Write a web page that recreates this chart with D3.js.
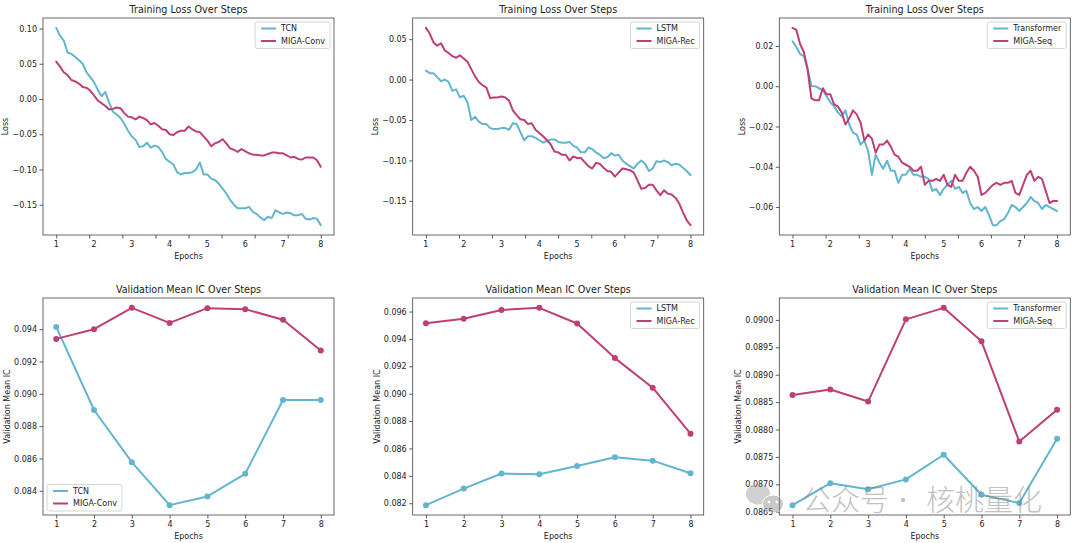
<!DOCTYPE html>
<html>
<head>
<meta charset="utf-8">
<script src="https://cdn.jsdelivr.net/npm/d3@7"></script>
<style>
  body { margin: 0; background: #fff; }
  svg { display: block; font-family: "DejaVu Sans", sans-serif; }
</style>
</head>
<body>
<svg id="chart" width="1080" height="543"></svg>
<script>
// epochs shown on the validation plots and as labels on the loss plots
const epochs = [1, 2, 3, 4, 5, 6, 7, 8]
const epochLabels = ["1", "2", "3", "4", "5", "6", "7", "8"]

// training loss, one value per tenth of an epoch (1.0 ... 8.0)
const tcnLoss = [
  0.101, 0.090, 0.083, 0.066, 0.064, 0.060, 0.055, 0.050, 0.038, 0.031,
  0.024, 0.013, 0.004, 0.010, -0.005, -0.018, -0.022, -0.027, -0.035, -0.045,
  -0.053, -0.058, -0.068, -0.067, -0.062, -0.069, -0.066, -0.068, -0.075, -0.085,
  -0.089, -0.093, -0.104, -0.107, -0.105, -0.105, -0.104, -0.100, -0.090, -0.107,
  -0.107, -0.113, -0.115, -0.120, -0.127, -0.134, -0.143, -0.150, -0.155, -0.155,
  -0.155, -0.153, -0.160, -0.163, -0.168, -0.172, -0.167, -0.169, -0.158, -0.161,
  -0.163, -0.161, -0.162, -0.165, -0.165, -0.163, -0.170, -0.171, -0.169, -0.170,
  -0.179
]
const migaConvLoss = [
  0.053, 0.046, 0.038, 0.034, 0.027, 0.025, 0.022, 0.017, 0.016, 0.012,
  0.005, -0.002, -0.006, -0.010, -0.015, -0.014, -0.012, -0.013, -0.020, -0.025,
  -0.026, -0.029, -0.025, -0.027, -0.030, -0.036, -0.034, -0.038, -0.043, -0.044,
  -0.050, -0.051, -0.047, -0.045, -0.045, -0.039, -0.043, -0.046, -0.047, -0.053,
  -0.059, -0.067, -0.063, -0.061, -0.057, -0.063, -0.070, -0.072, -0.075, -0.071,
  -0.074, -0.077, -0.079, -0.079, -0.080, -0.080, -0.078, -0.076, -0.076, -0.077,
  -0.077, -0.080, -0.083, -0.082, -0.085, -0.086, -0.083, -0.083, -0.083, -0.087,
  -0.096
]
const lstmLoss = [
  0.011, 0.008, 0.008, 0.003, -0.002, 0.000, -0.003, -0.014, -0.012, -0.022,
  -0.020, -0.028, -0.050, -0.046, -0.052, -0.055, -0.055, -0.060, -0.061, -0.061,
  -0.060, -0.060, -0.062, -0.054, -0.055, -0.065, -0.075, -0.070, -0.070, -0.072,
  -0.075, -0.078, -0.076, -0.074, -0.074, -0.077, -0.078, -0.078, -0.077, -0.082,
  -0.084, -0.090, -0.090, -0.084, -0.086, -0.090, -0.093, -0.097, -0.096, -0.091,
  -0.094, -0.093, -0.100, -0.104, -0.107, -0.110, -0.104, -0.100, -0.104, -0.113,
  -0.110, -0.101, -0.102, -0.100, -0.102, -0.106, -0.104, -0.105, -0.109, -0.113,
  -0.118
]
const migaRecLoss = [
  0.064, 0.057, 0.046, 0.042, 0.045, 0.036, 0.033, 0.029, 0.027, 0.030,
  0.026, 0.022, 0.013, 0.004, -0.003, -0.007, -0.010, -0.023, -0.022, -0.022,
  -0.021, -0.022, -0.026, -0.038, -0.044, -0.049, -0.050, -0.055, -0.054, -0.062,
  -0.066, -0.070, -0.075, -0.080, -0.089, -0.090, -0.093, -0.093, -0.100, -0.095,
  -0.097, -0.097, -0.102, -0.107, -0.110, -0.103, -0.104, -0.109, -0.113, -0.114,
  -0.120, -0.115, -0.110, -0.111, -0.112, -0.115, -0.125, -0.135, -0.134, -0.130,
  -0.130, -0.137, -0.143, -0.137, -0.141, -0.142, -0.146, -0.153, -0.164, -0.174,
  -0.180
]
const transformerLoss = [
  0.0223, 0.0195, 0.016, 0.015, 0.009, 0.000, 0.000, -0.001, -0.002, -0.005,
  -0.008, -0.010, -0.013, -0.015, -0.012, -0.019, -0.023, -0.024, -0.029, -0.027,
  -0.032, -0.044, -0.034, -0.038, -0.041, -0.037, -0.042, -0.042, -0.048, -0.044,
  -0.044, -0.041, -0.044, -0.044, -0.045, -0.045, -0.046, -0.052, -0.051, -0.054,
  -0.051, -0.049, -0.047, -0.051, -0.050, -0.053, -0.052, -0.058, -0.061, -0.060,
  -0.062, -0.060, -0.064, -0.069, -0.069, -0.067, -0.066, -0.063, -0.059, -0.060,
  -0.062, -0.060, -0.058, -0.055, -0.057, -0.058, -0.061, -0.059, -0.060, -0.061,
  -0.062
]
const migaSeqLoss = [
  0.029, 0.028, 0.021, 0.017, 0.008, -0.006, -0.007, -0.007, -0.001, -0.004,
  -0.004, -0.009, -0.010, -0.013, -0.019, -0.016, -0.012, -0.014, -0.018, -0.027,
  -0.024, -0.026, -0.033, -0.029, -0.029, -0.027, -0.030, -0.034, -0.035, -0.038,
  -0.039, -0.040, -0.042, -0.042, -0.040, -0.049, -0.047, -0.047, -0.046, -0.047,
  -0.044, -0.049, -0.050, -0.044, -0.047, -0.047, -0.043, -0.040, -0.042, -0.045,
  -0.054, -0.053, -0.051, -0.049, -0.048, -0.049, -0.048, -0.048, -0.047, -0.053,
  -0.054, -0.049, -0.044, -0.042, -0.047, -0.045, -0.046, -0.052, -0.058, -0.057,
  -0.057
]

// validation mean IC per epoch
const tcnIC = [0.09414, 0.08900, 0.08577, 0.08311, 0.08365, 0.08505, 0.08962, 0.08962]
const migaConvIC = [0.09340, 0.09400, 0.09532, 0.09439, 0.09530, 0.09524, 0.09458, 0.09268]
const lstmIC = [0.08186, 0.08307, 0.08417, 0.08412, 0.08472, 0.08536, 0.08511, 0.08419]
const migaRecIC = [0.09515, 0.09547, 0.09612, 0.09627, 0.09513, 0.09260, 0.09044, 0.08708]
const transformerIC = [0.08662, 0.08702, 0.08691, 0.08709, 0.08754, 0.08681, 0.08666, 0.08783]
const migaSeqIC = [0.08863, 0.08873, 0.08851, 0.09001, 0.09022, 0.08961, 0.08778, 0.08836]

// y tick values
const lossTicksConv = [-0.15, -0.10, -0.05, 0.00, 0.05, 0.10]
const lossTicksRec = [-0.15, -0.10, -0.05, 0.00, 0.05]
const lossTicksSeq = [-0.06, -0.04, -0.02, 0.00, 0.02]
const icTicksConv = [0.084, 0.086, 0.088, 0.090, 0.092, 0.094]
const icTicksRec = [0.082, 0.084, 0.086, 0.088, 0.090, 0.092, 0.094, 0.096]
const icTicksSeq = [0.0865, 0.0870, 0.0875, 0.0880, 0.0885, 0.0890, 0.0895, 0.0900]

const BLUE = "#63b5cf"
const PINK = "#bd3f75"

const stepX = tcnLoss.map((_, i) => 1 + i / 10)
const stepTickMarks = d3.range(9).map(i => 1 + i * 7 / 8)

const W = 291, H = 217
const svg = d3.select("#chart")
svg.append("rect").attr("width", 1080).attr("height", 543).attr("fill", "#fff")

const panels = [
  { left: 43, top: 18, title: "Training Loss Over Steps", ylabel: "Loss", xs: stepX, steps: true,
    series: [["TCN", tcnLoss, BLUE], ["MIGA-Conv", migaConvLoss, PINK]], ticks: lossTicksConv, fmt: ".2f", legend: "ur" },
  { left: 412.7, top: 18, title: "Training Loss Over Steps", ylabel: "Loss", xs: stepX, steps: true,
    series: [["LSTM", lstmLoss, BLUE], ["MIGA-Rec", migaRecLoss, PINK]], ticks: lossTicksRec, fmt: ".2f", legend: "ur" },
  { left: 779.3, top: 18, title: "Training Loss Over Steps", ylabel: "Loss", xs: stepX, steps: true,
    series: [["Transformer", transformerLoss, BLUE], ["MIGA-Seq", migaSeqLoss, PINK]], ticks: lossTicksSeq, fmt: ".2f", legend: "ur" },
  { left: 43, top: 298, title: "Validation Mean IC Over Steps", ylabel: "Validation Mean IC", xs: epochs, steps: false,
    series: [["TCN", tcnIC, BLUE], ["MIGA-Conv", migaConvIC, PINK]], ticks: icTicksConv, fmt: ".3f", legend: "ll" },
  { left: 412.7, top: 298, title: "Validation Mean IC Over Steps", ylabel: "Validation Mean IC", xs: epochs, steps: false,
    series: [["LSTM", lstmIC, BLUE], ["MIGA-Rec", migaRecIC, PINK]], ticks: icTicksRec, fmt: ".3f", legend: "ur" },
  { left: 779.3, top: 298, title: "Validation Mean IC Over Steps", ylabel: "Validation Mean IC", xs: epochs, steps: false,
    series: [["Transformer", transformerIC, BLUE], ["MIGA-Seq", migaSeqIC, PINK]], ticks: icTicksSeq, fmt: ".4f", legend: "ur" }
]

panels.forEach(p => {
  const g = svg.append("g").attr("transform", `translate(${p.left},${p.top})`)

  const all = p.series.flatMap(s => s[1])
  const [lo, hi] = d3.extent(all)
  const pad = (hi - lo) * 0.05
  const x = d3.scaleLinear().domain([0.65, 8.35]).range([0, W])
  const y = d3.scaleLinear().domain([lo - pad, hi + pad]).range([H, 0])

  // x axis
  if (p.steps) {
    g.append("g").attr("transform", `translate(0,${H})`)
      .call(d3.axisBottom(x).tickValues(stepTickMarks).tickSize(3.5).tickFormat(() => ""))
    g.append("g").selectAll("text").data(epochs).join("text")
      .attr("x", d => x(d)).attr("y", H + 6.5).attr("dy", "0.71em")
      .attr("text-anchor", "middle").attr("font-size", 8).attr("fill", "#222")
      .text((d, i) => epochLabels[i])
  } else {
    g.append("g").attr("transform", `translate(0,${H})`)
      .call(d3.axisBottom(x).tickValues(epochs).tickSize(3.5).tickPadding(3)
        .tickFormat((d, i) => epochLabels[i]))
  }

  // y axis
  const ya = g.append("g")
    .call(d3.axisLeft(y).tickValues(p.ticks).tickSize(3.5).tickPadding(2.5).tickFormat(d3.format(p.fmt)))

  g.selectAll(".domain").remove()
  g.selectAll(".tick line").attr("stroke", "#333").attr("stroke-width", 0.8)
  g.selectAll(".tick text").attr("font-size", 8).attr("fill", "#222").attr("font-family", "DejaVu Sans")

  // frame
  g.append("rect").attr("width", W).attr("height", H)
    .attr("fill", "none").attr("stroke", "#444").attr("stroke-width", 0.8)

  // lines
  const line = d3.line().x((d, i) => x(p.xs[i])).y(d => y(d))
  p.series.forEach(([name, vals, color]) => {
    g.append("path").datum(vals)
      .attr("d", line).attr("fill", "none").attr("stroke", color)
      .attr("stroke-width", 2).attr("stroke-linejoin", "round").attr("stroke-linecap", "round")
    if (!p.steps) {
      g.append("g").selectAll("circle").data(vals).join("circle")
        .attr("cx", (d, i) => x(p.xs[i])).attr("cy", d => y(d))
        .attr("r", 3).attr("fill", color)
    }
  })

  // title and axis labels
  g.append("text").attr("x", W / 2).attr("y", -5)
    .attr("text-anchor", "middle").attr("font-size", 9.6).attr("fill", "#222").text(p.title)
  g.append("text").attr("x", W / 2).attr("y", H + 24)
    .attr("text-anchor", "middle").attr("font-size", 8).attr("fill", "#222").text("Epochs")

  let tw = 0
  ya.selectAll("text").each(function() { tw = Math.max(tw, this.getBBox().width) })
  const lx = -tw - 6 - 7
  g.append("text").attr("transform", `translate(${lx},${H / 2}) rotate(-90)`)
    .attr("dy", "0.35em").attr("text-anchor", "middle").attr("font-size", 8).attr("fill", "#222")
    .text(p.ylabel)

  // legend
  const lg = g.append("g")
  const box = lg.append("rect").attr("rx", 2)
    .attr("fill", "#fff").attr("fill-opacity", 0.8).attr("stroke", "#ccc").attr("stroke-width", 0.8)
  let lw = 0
  p.series.forEach(([name, vals, color], i) => {
    const ry = 6.5 + i * 12.5
    lg.append("line").attr("x1", 6).attr("x2", 21).attr("y1", ry).attr("y2", ry)
      .attr("stroke", color).attr("stroke-width", 2)
    const t = lg.append("text").attr("x", 26).attr("y", ry).attr("dy", "0.35em")
      .attr("font-size", 8).attr("fill", "#222").text(name)
    lw = Math.max(lw, t.node().getComputedTextLength())
  })
  const bw = 26 + lw + 5, bh = 26.5
  box.attr("width", bw).attr("height", bh)
  if (p.legend === "ur") lg.attr("transform", `translate(${W - 4 - bw},4)`)
  else lg.attr("transform", `translate(4,${H - 4 - bh})`)
})

// watermark
const wm = svg.append("g").attr("opacity", 0.45)
wm.append("ellipse").attr("cx", 758).attr("cy", 494).attr("rx", 12).attr("ry", 10.5).attr("fill", "#9a9a9a")
wm.append("ellipse").attr("cx", 773).attr("cy", 504).attr("rx", 10.5).attr("ry", 9).attr("fill", "#8a8a8a")
  .attr("stroke", "#fff").attr("stroke-width", 1)
wm.selectAll(".eye").data([[769, 502], [777, 502]]).join("circle")
  .attr("cx", d => d[0]).attr("cy", d => d[1]).attr("r", 1.4).attr("fill", "#fff")
wm.append("text").attr("x", 802).attr("y", 511).attr("font-weight", 300)
  .attr("font-family", "Noto Sans CJK SC").attr("font-size", 29).attr("fill", "#777").text("公众号")
wm.append("circle").attr("cx", 903).attr("cy", 500).attr("r", 2.2).attr("fill", "#777")
wm.append("text").attr("x", 926).attr("y", 511).attr("font-weight", 300)
  .attr("font-family", "Noto Sans CJK SC").attr("font-size", 29).attr("fill", "#777").text("核桃量化")
</script>
</body>
</html>
